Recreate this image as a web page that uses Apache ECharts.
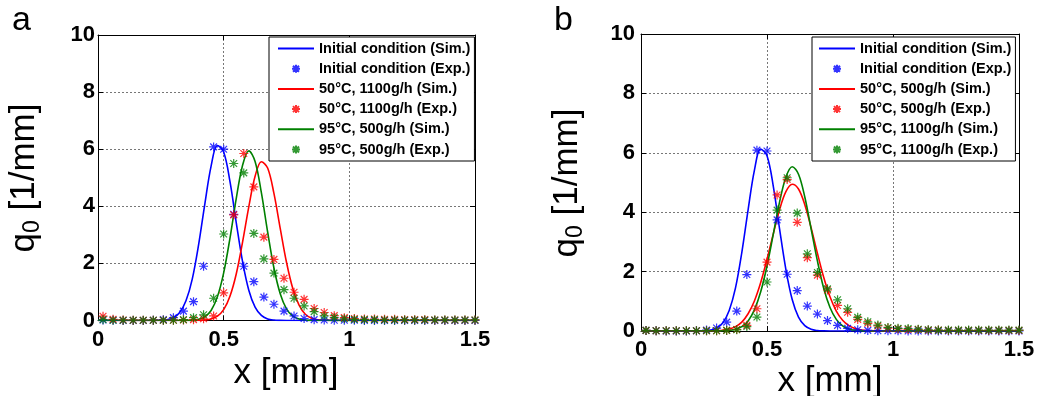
<!DOCTYPE html>
<html><head><meta charset="utf-8">
<script src="https://cdn.jsdelivr.net/npm/echarts@6/dist/echarts.min.js"></script>
<style>html,body{margin:0;padding:0;background:#fff}#c{width:1039px;height:396px}</style>
</head><body><div id="c"></div>
<script>
// ---- tick labels ----
const xTicks = [0, 0.5, 1, 1.5];
const yTicks = [0, 2, 4, 6, 8, 10];

// ---- x positions ----
const expX = [0.02,0.06,0.10,0.14,0.18,0.22,0.26,0.30,0.34,0.38,0.42,0.46,0.50,0.54,0.58,0.62,0.66,0.70,0.74,0.78,0.82,0.86,0.90,0.94,0.98,1.02,1.06,1.10,1.14,1.18,1.22,1.26,1.30,1.34,1.38,1.42,1.46,1.50];
const simX = [0,0.2,0.225,0.25,0.275,0.3,0.325,0.35,0.375,0.4,0.425,0.45,0.475,0.5,0.525,0.55,0.575,0.6,0.625,0.65,0.675,0.7,0.725,0.75,0.775,0.8,0.825,0.85,0.875,0.9,0.925,0.95,1.5];

// ---- simulated curves ----
const simInitial = [0,0,0.001,0.007,0.028,0.095,0.28,0.69,1.45,2.64,4.08,5.41,6.13,5.90,4.87,3.43,2.07,1.06,0.47,0.18,0.056,0.015,0.004,0,0,0,0,0,0,0,0,0,0];
const simA_50_1100 = [0,0,0,0,0,0,0,0,0.001,0.004,0.015,0.052,0.151,0.38,0.85,1.63,2.74,3.98,5.05,5.56,5.34,4.45,3.23,2.04,1.12,0.54,0.22,0.081,0.025,0.007,0.002,0,0];
const simA_95_500 = [0,0,0,0,0,0,0,0.003,0.011,0.041,0.13,0.35,0.83,1.67,2.88,4.27,5.43,5.94,5.57,4.48,3.10,1.84,0.94,0.41,0.154,0.05,0.014,0.004,0,0,0,0,0];
const simB_50_500 = [0,0,0,0.001,0.004,0.01,0.027,0.065,0.147,0.30,0.58,1.01,1.63,2.41,3.27,4.09,4.69,4.94,4.78,4.25,3.48,2.62,1.81,1.15,0.67,0.36,0.18,0.08,0.033,0.013,0.005,0.002,0];
const simB_95_1100 = [0,0,0,0,0,0.002,0.006,0.02,0.057,0.147,0.34,0.71,1.32,2.19,3.26,4.35,5.18,5.53,5.28,4.51,3.44,2.36,1.44,0.79,0.39,0.17,0.067,0.023,0.007,0,0,0,0];

// ---- experimental points ----
const expA_initial = [0.02,0.01,0,0,0,0.01,0.03,0.1,0.33,0.66,1.9,6.08,6.0,3.72,1.9,1.36,0.82,0.57,0.33,0.16,0.07,0.03,0.02,0.01,0.01,0.01,0,0,0,0,0,0,0,0,0,0,0,0];
const expA_50_1100 = [0.15,0.04,0.02,0.01,0.01,0.01,0.01,0.01,0.02,0.03,0.06,0.16,0.97,3.7,5.85,4.68,2.92,2.14,1.48,0.99,0.74,0.42,0.28,0.17,0.1,0.07,0.05,0.05,0.04,0.04,0.03,0.03,0.03,0.02,0.02,0.02,0.02,0.02];
const expA_95_500 = [0.03,0.01,0.01,0.01,0.01,0.01,0.01,0.01,0.03,0.1,0.2,0.78,3.03,5.5,5.17,3.05,2.16,1.66,1.08,0.78,0.51,0.31,0.16,0.1,0.06,0.04,0.03,0.03,0.02,0.02,0.02,0.02,0.02,0.02,0.02,0.02,0.02,0.02];
const expB_initial = [0.02,0.01,0,0,0,0.01,0.03,0.1,0.3,0.67,1.9,6.09,6.06,3.74,1.91,1.36,0.84,0.57,0.35,0.19,0.09,0.04,0.02,0.01,0.01,0.01,0,0,0,0,0,0,0,0,0,0,0,0];
const expB_50_500 = [0.02,0.01,0.01,0.01,0.01,0.01,0.01,0.01,0.02,0.05,0.19,0.75,2.32,4.58,5.1,3.66,2.47,1.88,1.38,0.86,0.63,0.39,0.26,0.17,0.1,0.07,0.05,0.05,0.03,0.03,0.02,0.02,0.02,0.02,0.02,0.02,0.02,0.02];
const expB_95_1100 = [0.02,0.01,0.01,0.01,0.01,0.01,0.01,0.01,0.02,0.04,0.15,0.47,1.65,4.07,5.16,3.97,2.6,1.97,1.42,1.05,0.75,0.46,0.31,0.2,0.12,0.09,0.08,0.06,0.04,0.03,0.03,0.03,0.03,0.03,0.03,0.03,0.03,0.03];

// ---- names ----
const namesA = ['Initial condition (Sim.)','Initial condition (Exp.)','50°C, 1100g/h (Sim.)','50°C, 1100g/h (Exp.)','95°C, 500g/h (Sim.)','95°C, 500g/h (Exp.)'];
const namesB = ['Initial condition (Sim.)','Initial condition (Exp.)','50°C, 500g/h (Sim.)','50°C, 500g/h (Exp.)','95°C, 1100g/h (Sim.)','95°C, 1100g/h (Exp.)'];

const BLUE = '#0000ff', RED = '#ff0000', GREEN = '#008000';
const FONT = '"Liberation Sans", Arial, Helvetica, sans-serif';
const STAR = 'path://M-4,0L4,0M0,-4L0,4M-3,-3L3,3M-3,3L3,-3';

const pair = (xs, ys) => xs.map((x, i) => [x, ys[i]]);

function lineS(name, gi, ys, color) {
  return {type:'line', name, xAxisIndex:gi, yAxisIndex:gi, data:pair(simX, ys),
    symbol:'none', showSymbol:false, smooth:0.35, lineStyle:{color, width:1.6}, itemStyle:{color},
    emphasis:{disabled:true}, z:3};
}
function expS(name, gi, ys, color) {
  return {type:'scatter', name, xAxisIndex:gi, yAxisIndex:gi, data:pair(expX, ys),
    symbol:STAR, symbolSize:9, itemStyle:{color, borderColor:color, borderWidth:1.2},
    emphasis:{disabled:true}, z:3};
}
function xAx(gi, pos, labels, margin) {
  return {type:'value', gridIndex:gi, position:pos, min:xTicks[0], max:xTicks[xTicks.length-1], interval:xTicks[1]-xTicks[0],
    axisLine:{show:true, onZero:false, lineStyle:{color:'#000', width:1}},
    axisTick:{show:true, inside:true, length:5, lineStyle:{color:'#000'}},
    axisLabel:{show:labels, margin, fontFamily:FONT, fontWeight:'bold', fontSize:22, color:'#000'},
    splitLine:{show:labels, lineStyle:{color:'#777', type:[2,2], width:1}}};
}
function yAx(gi, pos, labels, margin) {
  return {type:'value', gridIndex:gi, position:pos, min:yTicks[0], max:yTicks[yTicks.length-1], interval:yTicks[1]-yTicks[0],
    axisLine:{show:true, onZero:false, lineStyle:{color:'#000', width:1}},
    axisTick:{show:true, inside:true, length:5, lineStyle:{color:'#000'}},
    axisLabel:{show:labels, margin, fontFamily:FONT, fontWeight:'bold', fontSize:22, color:'#000'},
    splitLine:{show:labels, lineStyle:{color:'#777', type:[2,2], width:1}}};
}
function legendOf(names, left, top, pad) {
  const data = names.map((n, i) => i % 2 === 0 ? {name:n, itemStyle:{opacity:0}} : {name:n});
  return {data, orient:'vertical', left, top, itemWidth:36, itemHeight:8, itemGap:5.2,
    padding:pad, backgroundColor:'#fff', borderColor:'#000', borderWidth:1, borderRadius:0,
    selectedMode:false, textStyle:{fontFamily:FONT, fontWeight:'bold', fontSize:14.5, color:'#000', lineHeight:14}};
}
const yLabelRich = {
  a:{fontFamily:FONT, fontSize:35, lineHeight:40, fill:'#000', color:'#000'},
  b:{fontFamily:FONT, fontSize:23, lineHeight:14, verticalAlign:'bottom', fill:'#000', color:'#000'}
};

const option = {
  animation:false,
  backgroundColor:'#fff',
  grid:[
    {left:98, top:35, width:377, height:285.5, outerBoundsMode:'none', containLabel:false},
    {left:641, top:34, width:378, height:297, outerBoundsMode:'none', containLabel:false}
  ],
  xAxis:[xAx(0,'bottom',true,8.5), xAx(1,'bottom',true,8), xAx(0,'top',false,0), xAx(1,'top',false,0)],
  yAxis:[yAx(0,'left',true,3), yAx(1,'left',true,6), yAx(0,'right',false,0), yAx(1,'right',false,0)],
  legend:[legendOf(namesA, 269, 37, [4,4,4,8]), legendOf(namesB, 812, 37, [4,4,4,6])],
  series:[
    lineS(namesA[0],0,simInitial,BLUE), expS(namesA[1],0,expA_initial,BLUE),
    lineS(namesA[2],0,simA_50_1100,RED), expS(namesA[3],0,expA_50_1100,RED),
    lineS(namesA[4],0,simA_95_500,GREEN), expS(namesA[5],0,expA_95_500,GREEN),
    lineS(namesB[0],1,simInitial,BLUE), expS(namesB[1],1,expB_initial,BLUE),
    lineS(namesB[2],1,simB_50_500,RED), expS(namesB[3],1,expB_50_500,RED),
    lineS(namesB[4],1,simB_95_1100,GREEN), expS(namesB[5],1,expB_95_1100,GREEN)
  ],
  graphic:[
    {type:'text', x:12, y:21, style:{text:'a', fontFamily:FONT, fontSize:34, fill:'#000', verticalAlign:'middle'}},
    {type:'text', x:554, y:21, style:{text:'b', fontFamily:FONT, fontSize:34, fill:'#000', verticalAlign:'middle'}},
    {type:'text', x:24, y:178, rotation:Math.PI/2, style:{text:'{a|q}{b|0}{a| [1/mm]}', rich:yLabelRich, align:'center', verticalAlign:'middle', fill:'#000'}},
    {type:'text', x:567, y:183, rotation:Math.PI/2, style:{text:'{a|q}{b|0}{a| [1/mm]}', rich:yLabelRich, align:'center', verticalAlign:'middle', fill:'#000'}},
    {type:'text', x:286, y:373, style:{text:'x [mm]', fontFamily:FONT, fontSize:35, fill:'#000', align:'center', verticalAlign:'middle'}},
    {type:'text', x:830, y:381, style:{text:'x [mm]', fontFamily:FONT, fontSize:35, fill:'#000', align:'center', verticalAlign:'middle'}}
  ]
};
const chart = echarts.init(document.getElementById('c'), null, {renderer:'canvas'});
chart.setOption(option);
</script></body></html>
